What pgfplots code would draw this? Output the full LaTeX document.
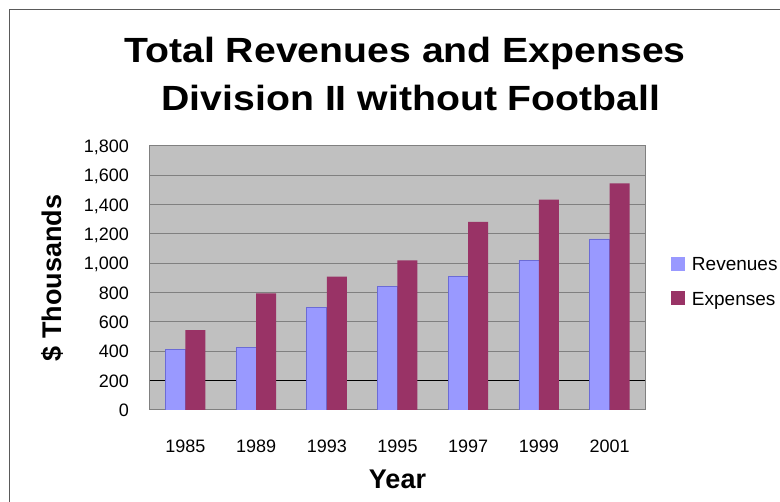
\documentclass[border=0pt]{standalone}
\usepackage{fontspec}
\setmainfont{Liberation Sans}
\newfontfamily\titlefont[FakeStretch=1.12]{Liberation Sans}
\usepackage{pgfplots}
\pgfplotsset{compat=1.18}
\definecolor{rev}{HTML}{9999FF}
\definecolor{revedge}{HTML}{6B6BD6}
\definecolor{expc}{HTML}{993366}
\definecolor{bg}{HTML}{C0C0C0}
\definecolor{gridc}{HTML}{808080}
\definecolor{framec}{HTML}{5A5A5A}
\begin{document}
\begin{tikzpicture}[x=1pt,y=1pt]
\useasboundingbox (0,0) rectangle (780,502);
\draw[framec, line width=1pt] (9.5,492.5) rectangle (900,-100);
\node[font=\titlefont\bfseries\fontsize{35}{40}\selectfont, anchor=base, inner sep=0pt] at (405,439) {Total Revenues and Expenses};
\node[font=\titlefont\bfseries\fontsize{35}{40}\selectfont, anchor=base, inner sep=0pt] at (411,391) {Division II without Football};
\begin{axis}[
  at={(150pt,92pt)}, anchor=south west,
  scale only axis, width=495pt, height=264pt,
  xmin=-0.5, xmax=6.5, ymin=0, ymax=1800,
  xtick={0,1,2,3,4,5,6},
  xticklabels={1985,1989,1993,1995,1997,1999,2001},
  ytick={0,200,...,1800},
  major tick length=0pt,
  /pgf/number format/assume math mode=true,
  /pgf/number format/1000 sep={,},
  ymajorgrids, major grid style={gridc, line width=1pt},
  axis line style={gridc, line width=1pt},
  axis background/.style={fill=bg},
  tick label style={font=\fontsize{18}{21}\selectfont, inner sep=0pt},
  yticklabel style={anchor=base east, xshift=-21pt, yshift=-6.4pt},
  xticklabel style={anchor=base, yshift=-43pt},
  xlabel={Year},
  ylabel={\$ Thousands},
  label style={font=\bfseries\fontsize{27}{30}\selectfont, inner sep=0pt},
  xlabel style={at={(axis description cs:0.5,-0.2955)}, anchor=base},
  ylabel style={at={(axis description cs:-0.1798,0.5)}, anchor=base, rotate=0},
  legend style={at={(axis description cs:1.0525,0.5795)}, anchor=north west,
    draw=none, fill=none, inner sep=0pt, outer sep=0pt,
    font=\fontsize{19}{22}\selectfont, row sep=19pt, column sep=7pt,
    nodes={inner sep=0pt, outer sep=0pt}},
  legend cell align=left,
  legend image code/.code={\path[#1, draw=none] (0pt,-6pt) rectangle (14pt,8pt);},
]
\addplot[black, line width=1pt, forget plot] coordinates {(-0.5,200) (6.5,200)};
\addplot[ybar, bar width=20pt, bar shift=-10pt, fill=rev, draw=revedge, line width=0.8pt]
  coordinates {(0,415) (1,427) (2,701) (3,843) (4,908) (5,1020) (6,1166)};
\addlegendentry{Revenues}
\addplot[ybar, bar width=20pt, bar shift=10pt, fill=expc, draw=none]
  coordinates {(0,545) (1,795) (2,910) (3,1020) (4,1283) (5,1434) (6,1545)};
\addlegendentry{Expenses}
\end{axis}
\end{tikzpicture}
\end{document}
